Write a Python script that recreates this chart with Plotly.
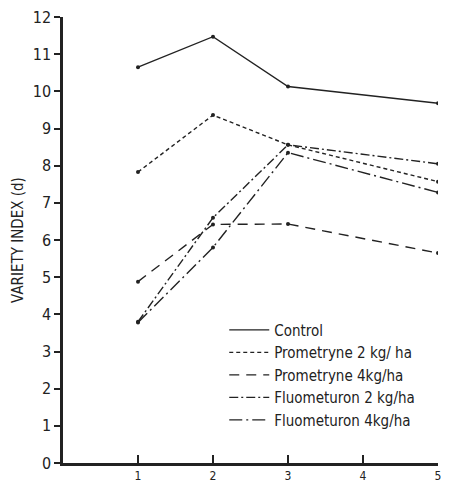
import plotly.graph_objects as go

x_vals = [1, 2, 3, 5]
control = [10.65, 11.47, 10.13, 9.68]
prom2 = [7.83, 9.36, 8.56, 7.57]
prom4 = [4.88, 6.42, 6.43, 5.65]
fluo2 = [3.8, 6.6, 8.56, 8.05]
fluo4 = [3.78, 5.8, 8.35, 7.28]
names = ["Control", "Prometryne 2 kg/ ha", "Prometryne 4kg/ha", "Fluometuron 2 kg/ha", "Fluometuron 4kg/ha"]
dashes = ["solid", "4px,3px", "10px,7px", "9px,3px,2px,3px", "13px,4px,2px,4px"]
series = [control, prom2, prom4, fluo2, fluo4]

FONT = "DejaVu Sans Condensed, Liberation Sans Narrow, sans-serif"
fig = go.Figure()
for name, ys, d in zip(names, series, dashes):
    fig.add_trace(go.Scatter(
        x=x_vals, y=ys, name=name, mode="lines+markers", showlegend=False,
        line=dict(color="#222", width=1.4, dash=d),
        marker=dict(color="#222", size=4),
    ))
for name, d in zip(names, dashes):
    fig.add_trace(go.Scatter(
        x=[None], y=[None], name=name, mode="lines",
        line=dict(color="#222", width=1.2, dash=d),
    ))

fig.update_layout(
    width=457, height=483,
    margin=dict(l=63, r=19, t=17, b=20),
    paper_bgcolor="white", plot_bgcolor="white",
    font=dict(family=FONT, size=14, color="#222"),
    showlegend=True,
    legend=dict(x=0.43, y=0.335, xanchor="left", yanchor="top",
                bgcolor="rgba(0,0,0,0)", font=dict(size=15, family=FONT),
                itemwidth=40, tracegroupgap=0, itemclick=False),
    xaxis=dict(range=[0, 5], tickvals=[1, 2, 3, 4, 5], showgrid=False, zeroline=False,
               showline=True, linecolor="#222", linewidth=2.5,
               ticks="inside", ticklen=8, tickwidth=1.5, tickcolor="#222",
               tickfont=dict(size=12), automargin=False),
    yaxis=dict(range=[0, 12], tickvals=list(range(13)), showgrid=False, zeroline=False,
               showline=True, linecolor="#222", linewidth=2.5,
               ticks="outside", ticklen=6, tickwidth=1.5, tickcolor="#222",
               tickfont=dict(size=16), automargin=False,
               title=dict(text="VARIETY INDEX (d)", font=dict(size=15), standoff=6)),
)
fig.write_html("out.html")
